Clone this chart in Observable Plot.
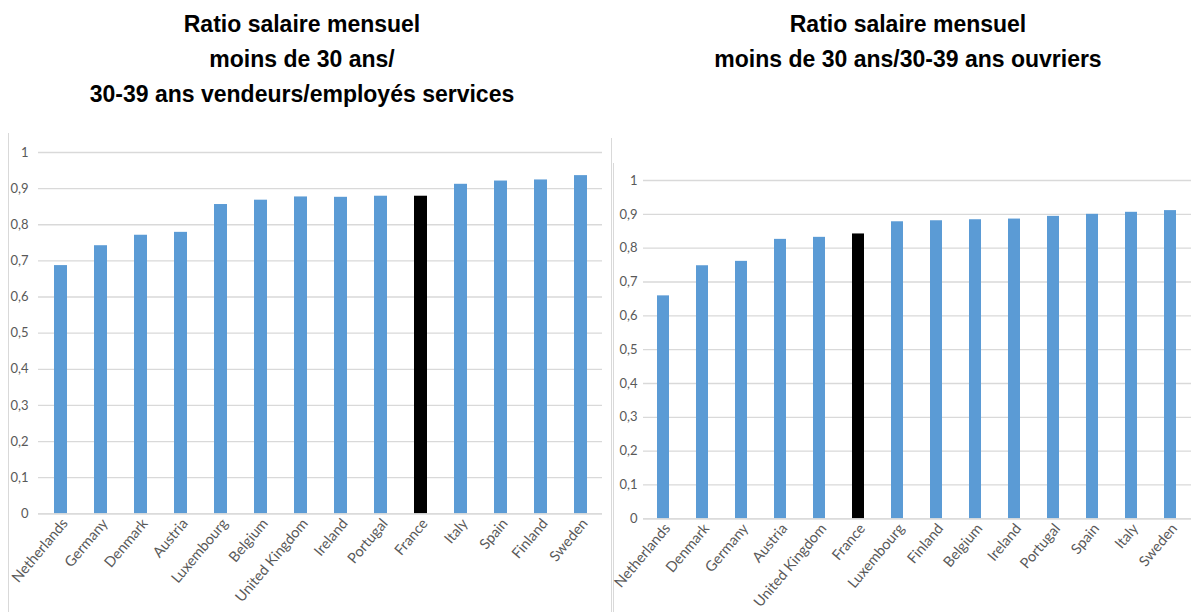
<!DOCTYPE html>
<html>
<head>
<meta charset="utf-8">
<script src="https://cdn.jsdelivr.net/npm/d3@7"></script>
<script src="https://cdn.jsdelivr.net/npm/@observablehq/plot@0.6"></script>
<style>
  html, body { margin: 0; padding: 0; background: #fff; }
  #wrap { position: relative; width: 1192px; height: 612px; overflow: hidden; }
  .title { position: absolute; top: 7px; font-family: "Liberation Sans", Arial, sans-serif; font-weight: bold; font-size: 23px; line-height: 35px; text-align: center; color: #000; white-space: nowrap; }
  .chart { position: absolute; }
  .vline { position: absolute; width: 1px; background: #d9d9d9; }
</style>
</head>
<body>
<div id="wrap">
  <div class="title" style="left:2px; width:600px;">Ratio salaire mensuel<br>moins de 30 ans/<br>30-39 ans vendeurs/employés services</div>
  <div class="title" style="left:608px; width:600px;">Ratio salaire mensuel<br>moins de 30 ans/30-39 ans ouvriers</div>
  <div class="vline" style="left:8px; top:133px; height:479px;"></div>
  <div class="vline" style="left:611px; top:138px; height:474px;"></div>
  <div class="vline" style="left:613px; top:163px; height:449px;"></div>
  <div class="chart" id="left" style="left:0px; top:130px;"></div>
  <div class="chart" id="right" style="left:600px; top:150px;"></div>
</div>
<script>
// Chart 1: vendeurs / employés services
const countriesA = ["Netherlands","Germany","Denmark","Austria","Luxembourg","Belgium","United Kingdom","Ireland","Portugal","France","Italy","Spain","Finland","Sweden"];
const valuesA = [0.687,0.742,0.771,0.779,0.856,0.868,0.877,0.876,0.879,0.879,0.912,0.921,0.924,0.936];

// Chart 2: ouvriers
const countriesB = ["Netherlands","Denmark","Germany","Austria","United Kingdom","France","Luxembourg","Finland","Belgium","Ireland","Portugal","Spain","Italy","Sweden"];
const valuesB = [0.659,0.748,0.761,0.826,0.832,0.842,0.878,0.881,0.884,0.886,0.894,0.900,0.906,0.911];

const yTicks = [0,0.1,0.2,0.3,0.4,0.5,0.6,0.7,0.8,0.9,1];
const highlight = "France";
const barColor = "#5b9bd5";
const gridColor = "#d9d9d9";
const labelColor = "#595959";

function fmt(d) { return String(d).replace(".", ","); }

function makeChart(countries, values, opt) {
  const data = countries.map((c, i) => ({country: c, value: values[i]}));
  return Plot.plot({
    width: opt.width,
    height: opt.height,
    marginTop: opt.mt,
    marginBottom: opt.mb,
    marginLeft: opt.ml,
    marginRight: opt.mr,
    style: {fontFamily: "Lato, 'Open Sans', sans-serif", fontSize: "13px", color: labelColor, background: "transparent"},
    x: {domain: countries, paddingInner: opt.pad, paddingOuter: opt.pad / 2, label: null},
    y: {domain: [0, 1], label: null},
    marks: [
      Plot.gridY(yTicks, {stroke: gridColor, strokeOpacity: 1, strokeWidth: 1.3}),
      Plot.barY(data, {x: "country", y: "value", fill: d => d.country === highlight ? "#000000" : barColor}),
      Plot.ruleY([0], {stroke: gridColor, strokeWidth: 1.3}),
      Plot.axisY(yTicks, {tickSize: 0, tickPadding: opt.ypad, tickFormat: fmt, fill: labelColor}),
      Plot.axisX({tickSize: 0, tickPadding: 7, tickRotate: -50, fontSize: 14.5, dx: 4, fill: labelColor})
    ]
  });
}

document.getElementById("left").append(makeChart(countriesA, valuesA, {width: 605, height: 482, mt: 22, mb: 98.7, ml: 38, mr: 3, pad: 0.68, ypad: 10}));
document.getElementById("right").append(makeChart(countriesB, valuesB, {width: 592, height: 462, mt: 30, mb: 93.7, ml: 43, mr: 1, pad: 0.69, ypad: 6}));
</script>
</body>
</html>
